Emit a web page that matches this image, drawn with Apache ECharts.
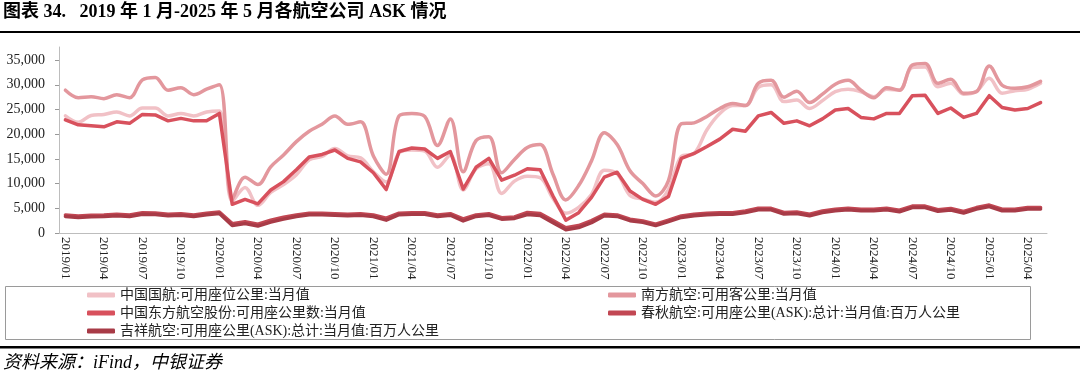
<!DOCTYPE html>
<html>
<head>
<meta charset="utf-8">
<script src="https://cdn.jsdelivr.net/npm/echarts@6/dist/echarts.min.js"></script>
<style>
  html, body { margin: 0; padding: 0; background: #fff; }
  #main { width: 1080px; height: 376px; }
</style>
</head>
<body>
<div id="main"></div>
<script>
// 月份 2019/01 - 2025/05
var months = [];
for (var y = 2019; y <= 2025; y++) {
    for (var m = 1; m <= 12; m++) {
        if (y == 2025 && m > 5) break;
        months.push(y + '/' + (m < 10 ? '0' + m : m));
    }
}

var yTicks = [0, 5000, 10000, 15000, 20000, 25000, 30000, 35000];

// 中国国航:可用座位公里:当月值
var airChina = [
    23700, 22400, 23800, 24000, 24500, 23700, 25300, 25300, 23700, 24200, 23700, 24500,
    24700, 6400, 9200, 5600, 8200, 9800, 11800, 14800, 15500, 17100, 15600, 15200,
    12400, 10300, 16200, 16800, 16600, 13300, 15800, 8700, 13000, 14000, 8000, 10500,
    11500, 11200, 7000, 4000, 5200, 7800, 12700, 12000, 7600, 6900, 6200, 8800,
    15500, 16100, 20900, 24200, 25800, 25800, 29500, 30000, 26600, 26900, 25200, 26800,
    28600, 29100, 28600, 27600, 29100, 28900, 33500, 33600, 29600, 30300, 28100, 28700,
    31300, 28300, 28800, 29100, 30300
];
// 南方航空:可用客公里:当月值
var chinaSouthern = [
    28900, 27400, 27600, 27200, 28000, 27400, 31000, 31500, 28900, 29400, 28000, 29100,
    30000, 6800, 11300, 9800, 13400, 15800, 18500, 20600, 22000, 23700, 22000, 22500,
    15600, 11900, 23700, 24200, 23600, 17700, 23100, 12400, 18700, 19500, 12200, 14900,
    17300, 17900, 11900, 6700, 9600, 14600, 20300, 17900, 12600, 10000, 7500, 10600,
    22100, 22300, 23600, 25200, 26200, 25800, 30300, 30900, 27500, 28700, 26400, 28100,
    30100, 30900, 28900, 27400, 29400, 28900, 34000, 34300, 30300, 31100, 28300, 28600,
    33800, 29900, 29300, 29600, 30700
];
// 中国东方航空股份:可用座公里数:当月值
var chinaEastern = [
    22900, 21900, 21700, 21500, 22500, 22200, 24000, 23900, 22700, 23200, 22700, 22700,
    24200, 5800, 6800, 5900, 8700, 10400, 12800, 15400, 15900, 16800, 15100, 14400,
    12200, 8800, 16500, 17200, 17000, 15100, 16500, 8900, 13300, 15100, 10700, 11700,
    13000, 12800, 7500, 2600, 4100, 7200, 11300, 12300, 8500, 6800, 5800, 7400,
    15100, 16100, 17500, 19000, 21000, 20600, 23700, 24400, 22200, 22700, 21700, 23100,
    24900, 25200, 23400, 23100, 24200, 24200, 27800, 27900, 24200, 25300, 23400, 24200,
    27800, 25400, 24900, 25200, 26400
];
// 春秋航空:可用座公里(ASK):总计:当月值:百万人公里
var springAir = [
    3650, 3450, 3600, 3650, 3800, 3650, 4100, 4050, 3800, 3900, 3650, 4000,
    4250, 1900, 2300, 1800, 2600, 3200, 3650, 4000, 4000, 3900, 3800, 3900,
    3650, 3000, 4000, 4100, 4100, 3650, 3900, 2850, 3650, 3900, 3100, 3250,
    4150, 3950, 2500, 1050, 1500, 2500, 3800, 3650, 2800, 2450, 1800, 2600,
    3450, 3800, 4000, 4100, 4100, 4450, 5000, 5000, 4150, 4250, 3800, 4450,
    4800, 5000, 4800, 4800, 5000, 4600, 5450, 5450, 4700, 4950, 4350, 5150,
    5650, 4800, 4800, 5150, 5150
];
// 吉祥航空:可用座公里(ASK):总计:当月值:百万人公里
var juneyao = [
    3350, 3150, 3300, 3350, 3500, 3350, 3800, 3750, 3500, 3600, 3350, 3700,
    3950, 1500, 1900, 1400, 2200, 2800, 3350, 3700, 3700, 3600, 3500, 3600,
    3350, 2600, 3700, 3800, 3800, 3350, 3600, 2450, 3350, 3600, 2800, 2950,
    3750, 3550, 2100, 650, 1100, 2100, 3500, 3350, 2500, 2150, 1500, 2300,
    3150, 3500, 3700, 3800, 3800, 4150, 4700, 4700, 3850, 3950, 3500, 4150,
    4500, 4700, 4500, 4500, 4700, 4300, 5150, 5150, 4400, 4650, 4050, 4850,
    5350, 4500, 4500, 4850, 4850
];

var names = [
    '中国国航:可用座位公里:当月值',
    '南方航空:可用客公里:当月值',
    '中国东方航空股份:可用座公里数:当月值',
    '春秋航空:可用座公里(ASK):总计:当月值:百万人公里',
    '吉祥航空:可用座公里(ASK):总计:当月值:百万人公里'
];
var colors = ['#f1c1c6', '#e3979d', '#d8515d', '#c24753', '#a83b47'];
var serif = '"Liberation Serif", "Noto Sans CJK SC", serif';

function lineSeries(idx, data, smooth) {
    return {
        name: names[idx],
        type: 'line',
        data: data,
        smooth: smooth,
        symbol: 'none',
        lineStyle: { width: 3.5, color: colors[idx], cap: 'round', join: 'round' },
        itemStyle: { color: colors[idx] }
    };
}

var legendText = { fontFamily: serif, fontSize: 14, color: '#222', lineHeight: 18 };

var option = {
    backgroundColor: '#fff',
    animation: false,
    grid: { left: 59, right: 33, top: 47, bottom: 143 },
    legend: [{
        orient: 'vertical',
        left: 87, top: 286, padding: 0,
        itemGap: 0, itemWidth: 28, itemHeight: 5,
        icon: 'roundRect',
        textStyle: legendText,
        data: [names[0], names[2], names[4]]
    }, {
        orient: 'vertical',
        left: 608, top: 286, padding: 0,
        itemGap: 0, itemWidth: 28, itemHeight: 5,
        icon: 'roundRect',
        textStyle: legendText,
        data: [names[1], names[3]]
    }],
    xAxis: {
        type: 'category',
        boundaryGap: true,
        data: months,
        axisLine: { lineStyle: { color: '#bdbdbd', width: 1 } },
        axisTick: { interval: 2, length: 4, lineStyle: { color: '#999' } },
        axisLabel: {
            interval: 2, rotate: -90, margin: 4,
            fontFamily: serif, fontSize: 13, color: '#222'
        }
    },
    yAxis: {
        type: 'value',
        min: 0, max: 37650, interval: 5000,
        splitLine: { show: false },
        axisLine: { show: true, lineStyle: { color: '#bdbdbd', width: 1 } },
        axisTick: { show: true, length: 4, customValues: yTicks, lineStyle: { color: '#999' } },
        axisLabel: {
            customValues: yTicks, margin: 14,
            fontFamily: serif, fontSize: 14, color: '#222',
            formatter: function (v) { return v.toLocaleString('en-US'); }
        }
    },
    graphic: [
        {
            type: 'text', left: 3, top: 3,
            style: {
                text: '图表 34.   2019 年 1 月-2025 年 5 月各航空公司 ASK 情况',
                font: 'bold 18px ' + serif, fill: '#000'
            }
        },
        { type: 'rect', shape: { x: 0, y: 31, width: 1080, height: 2 }, style: { fill: '#000' } },
        {
            type: 'rect', shape: { x: 5.5, y: 286.5, width: 1025, height: 53 },
            style: { fill: 'none', stroke: '#9a9a9a', lineWidth: 1 }
        },
        { type: 'rect', shape: { x: 0, y: 346, width: 1080, height: 2.5 }, style: { fill: '#000' } },
        {
            type: 'text', left: 3, top: 354,
            style: {
                text: '资料来源：iFind，中银证券',
                font: 'italic 18px ' + serif, fill: '#000'
            }
        }
    ],
    series: [
        lineSeries(0, airChina, 0.35),
        lineSeries(1, chinaSouthern, 0.35),
        lineSeries(2, chinaEastern, false),
        lineSeries(3, springAir, false),
        lineSeries(4, juneyao, false)
    ]
};

var myChart = echarts.init(document.getElementById('main'), null, { renderer: 'canvas' });
myChart.setOption(option);
</script>
</body>
</html>
